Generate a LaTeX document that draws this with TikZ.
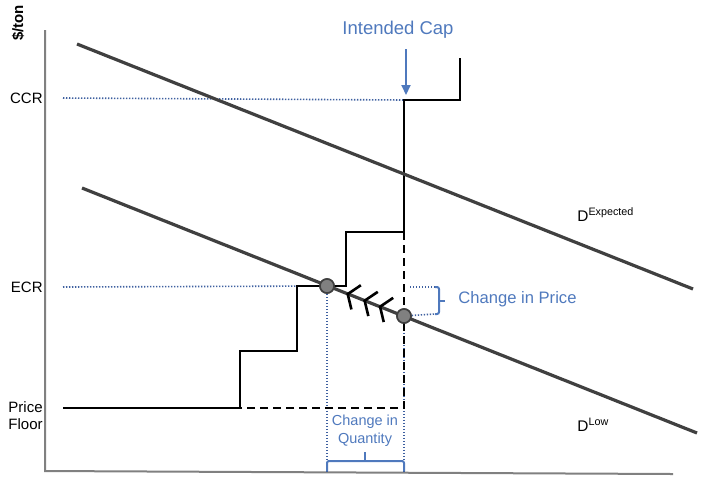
\documentclass[tikz,border=0pt]{standalone}
\usepackage{fontspec}
\setmainfont{Liberation Sans}
\usetikzlibrary{arrows.meta, calc}
\tikzset{>=stealth}
\definecolor{capblue}{RGB}{79,121,189}
\definecolor{dotblue}{RGB}{62,96,160}
\definecolor{demgray}{RGB}{64,64,64}
\definecolor{axisgray}{RGB}{128,128,128}

\begin{document}
\begin{tikzpicture}[x=0.5pt, y=-0.5pt,
	lbl/.style={inner sep=0pt, font=\fontsize{7.5}{8.5}\selectfont},
	bluelbl/.style={inner sep=0pt, text=capblue, font=\fontsize{8.3}{9}\selectfont},
	guide/.style={dotblue, line width=0.8pt, dash pattern=on 0.7pt off 0.8pt},
	supply/.style={line width=1pt},
	cutoff/.style={line width=1pt, dash pattern=on 4pt off 2.5pt},
	demand/.style={demgray, line width=1.6pt},
	bracket/.style={capblue, line width=1pt, rounded corners=1pt},
	eq/.style={circle, draw=demgray, fill=axisgray, line width=0.8pt, minimum size=7pt, inner sep=0pt},
	chev/.style={line width=1.3pt, -{Straight Barb[length=4.5pt, width=13pt]}}]
	\useasboundingbox (0,0) rectangle (722,489);
	\coordinate (origin) at (45,471);
	\draw [axisgray, line width=1pt] (45,30) -- (origin) -- (673,474);
	\node [lbl, font=\fontsize{7.5}{8.5}\selectfont\bfseries, rotate=90] (ton) at (18,23) {\$/ton};
	\node [lbl, anchor=east] (ccr) at (43,98) {CCR};
	\node [lbl, anchor=east] (ecr) at (43,287) {ECR};
	\node [lbl, anchor=east, align=right] (floor) at (43,416) {Price\\Floor};
	\node [eq] (eqLow) at (327,286) {};
	\node [eq] (eqCap) at (404,316) {};
	\coordinate (capCorner) at (404,100);
	\coordinate (capTip) at (406,95);
	\coordinate (pTop) at (439,287);
	\coordinate (pBot) at (439,314);
	\draw [guide] ([xshift=10pt]ccr.east) -- (capCorner);
	\draw [guide] ([xshift=10pt]ecr.east) -- (eqLow);
	\draw [guide] (eqLow) -- (eqLow |- origin);
	\draw [guide] (eqCap) -- (eqCap |- origin);
	\draw [guide] ([xshift=3pt]eqCap |- pTop) -- ([xshift=-2pt]pTop);
	\draw [guide] (eqCap) -- ([xshift=-2pt]pBot);
	\draw [supply] (63,408) -- (240,408) -- (240,351) -- (297,351) -- (297,286) -- (346,286) -- (346,232) -- (404,232) -- (capCorner) -- (460,100) -- (460,58);
	\draw [cutoff] (404,232) -- (404,408) -- (240,408);
	\draw [demand] (77,44) -- (693,289);
	\draw [demand] (82,188) -- (697,433);
	\foreach \s/\t in {0.31/0.33, 0.51/0.53, 0.73/0.75}
	\draw [chev] ($(eqCap)!\s!(eqLow)$) -- ($(eqCap)!\t!(eqLow)$);
	\node [eq] at (eqLow) {};
	\node [eq] at (eqCap) {};
	\draw [bracket] ([xshift=-2pt]pTop) -- (pTop) -- (pBot) -- ([xshift=-2pt]pBot);
	\draw [bracket] ($(pTop)!0.5!(pBot)$) -- ++(6,0);
	\node [bluelbl, anchor=west] (dprice) at (458,299) {Change in Price};
	\draw [bracket] (eqLow |- origin) |- (365,461) -| (eqCap |- origin);
	\draw [bracket] (365,461) -- (365,452);
	\node [bluelbl, font=\fontsize{7.25}{9}\selectfont, align=center] (dqty) at (365,431) {Change in\\Quantity};
	\node [bluelbl, font=\fontsize{9.25}{10}\selectfont] (cap) at (398,30) {Intended Cap};
	\draw [capblue, line width=1pt, -{Triangle[length=5pt, width=4.5pt]}, shorten <=5pt] (capTip |- cap.south) -- (capTip);
	\node [lbl, font=\fontsize{7.7}{9}\selectfont, anchor=base west] (dexp) at (577,221) {D\textsuperscript{Expected}};
	\node [lbl, font=\fontsize{7.7}{9}\selectfont, anchor=base west] (dlow) at (577,431) {D\textsuperscript{Low}};
\end{tikzpicture}
\end{document}
